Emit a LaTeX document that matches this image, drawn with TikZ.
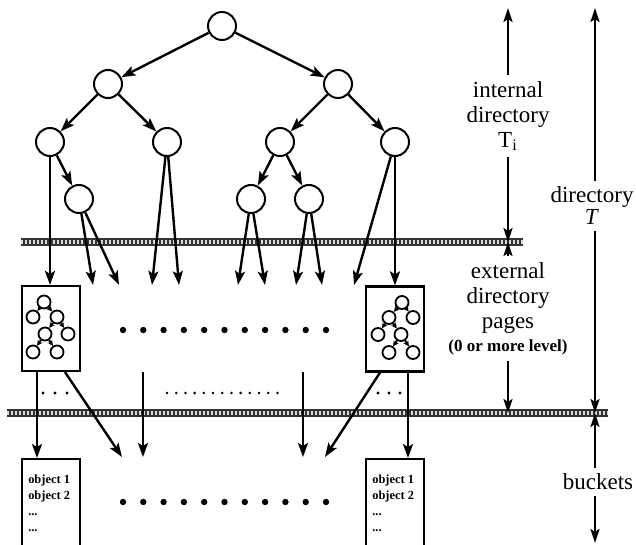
\documentclass[tikz,border=0pt]{standalone}
\usepackage{fontspec}
\setmainfont{Liberation Serif}
\usetikzlibrary{arrows.meta}
\usetikzlibrary{positioning}

\tikzset{
  tnode/.style={draw, circle, line width=1pt, minimum size=14pt, inner sep=0pt},
  mnode/.style={draw, circle, line width=0.9pt, minimum size=6.5pt, inner sep=0pt},
  edge/.style={line width=1.2pt, -{Stealth[length=7pt,width=5pt,inset=1.5pt]}},
  medge/.style={line width=1pt, -{Stealth[length=2.8pt,width=2.8pt]}},
  page/.style={draw, line width=1.1pt, minimum width=29pt, minimum height=42.5pt, inner sep=0pt},
  bucket/.style={draw, line width=1.1pt, minimum width=29pt, minimum height=48pt, anchor=north, inner sep=0pt},
  objtext/.style={font=\bfseries\fontsize{6.2}{8}\selectfont, align=left, inner sep=0pt, anchor=north west},
  lbl/.style={font=\fontsize{11.5}{12.5}\selectfont, align=center, inner sep=3pt},
  dimarrow/.style={line width=1.2pt, -{Stealth[length=7pt,width=4.5pt,inset=1.5pt]}},
  % small binary tree drawn inside a directory page
  minitree/.pic={
    \node[mnode] (a) at (-7,-26.5) {};
    \node[mnode] (b) at (-18,-11.5) {};
    \node[mnode] (c) at (6,-11.5) {};
    \node[mnode] (d) at (-6,5.5) {};
    \node[mnode] (e) at (17,5.5) {};
    \node[mnode] (f) at (-18,23.5) {};
    \node[mnode] (g) at (6,23.5) {};
    \draw[medge] (a) -- (b);
    \draw[medge] (a) -- (c);
    \draw[medge] (c) -- (d);
    \draw[medge] (c) -- (e);
    \draw[medge] (d) -- (f);
    \draw[medge] (d) -- (g);
  }
}

% thick grey band marking a level boundary
\newcommand{\levelline}[3]{%
  \draw[line width=3.8pt, black!80] (#1,#3) -- (#2,#3);
  \draw[line width=1.6pt, white!85!black, dash pattern=on 0.9pt off 1.1pt] (#1,#3) -- (#2,#3);
}

\begin{document}
\begin{tikzpicture}[x=0.5pt, y=-0.5pt]
\useasboundingbox (0,0) rectangle (636,545);

\levelline{21}{523}{242}
\levelline{7}{608}{413}

% internal directory
\node[tnode] (root) at (222,26) {};
\node[tnode] (l) at (108,84) {};
\node[tnode] (r) at (338,84) {};
\node[tnode] (ll) at (50,142) {};
\node[tnode] (lr) at (167,142) {};
\node[tnode] (rl) at (280,142) {};
\node[tnode] (rr) at (395,142) {};
\node[tnode] (llr) at (79,199) {};
\node[tnode] (rll) at (251,199) {};
\node[tnode] (rlr) at (309,199) {};

\draw[edge] (root) -- (l);
\draw[edge] (root) -- (r);
\draw[edge] (l) -- (ll);
\draw[edge] (l) -- (lr);
\draw[edge] (r) -- (rl);
\draw[edge] (r) -- (rr);
\draw[edge] (ll) -- (llr);
\draw[edge] (rl) -- (rll);
\draw[edge] (rl) -- (rlr);

% external directory pages
\node[page] (lpage) at (51,328.5) {};
\node[page] (rpage) at (395,329) {};
\pic at (lpage.center) {minitree};
\pic[xscale=-1] at (rpage.center) {minitree};

\foreach \x [count=\i] in {93,119,152,179,238,265,296,322,354}
  \coordinate (t\i) at (\x,285);

\draw[edge] (ll) -- (ll |- lpage.north);
\draw[edge] (llr) -- (t1);
\draw[edge] (llr) -- (t2);
\draw[edge] (lr) -- (t3);
\draw[edge] (lr) -- (t4);
\draw[edge] (rll) -- (t5);
\draw[edge] (rll) -- (t6);
\draw[edge] (rlr) -- (t7);
\draw[edge] (rlr) -- (t8);
\draw[edge] (rr) -- (t9);
\draw[edge] (rr) -- (rpage.north);

\foreach \i in {0,...,10}
  \fill (123+20.3*\i,330) circle (1.6pt);

% buckets
\node[bucket] (lbucket) at (51,458) {};
\node[bucket] (rbucket) at (395,458) {};
\node[objtext] (lobj) at ([xshift=3.5pt,yshift=-8pt]lbucket.north west) {object 1\\object 2\\...\\...};
\node[objtext] (robj) at ([xshift=3.5pt,yshift=-8pt]rbucket.north west) {object 1\\object 2\\...\\...};

\coordinate (m1) at (143,372);
\coordinate (m2) at (303,372);
\coordinate (b1) at (122,457);
\coordinate (b2) at (143,457);
\coordinate (b3) at (303,457);
\coordinate (b4) at (325,457);

\draw[edge] ([xshift=-7pt]lpage.south) -- ([xshift=-7pt]lbucket.north);
\draw[edge] ([xshift=7pt]lpage.south) -- (b1);
\draw[edge] (m1) -- (b2);
\draw[edge] (m2) -- (b3);
\draw[edge] ([xshift=-7.5pt]rpage.south) -- (b4);
\draw[edge] ([xshift=6.5pt]rpage.south) -- ([xshift=6.5pt]rbucket.north);

\foreach \x in {43,55,67,378,389,400}
  \fill (\x,393) circle (0.8pt);
\foreach \i in {0,...,12}
  \fill (167+9.2*\i,393) circle (0.7pt);
\foreach \i in {0,...,10}
  \fill (123+20.3*\i,502) circle (1.6pt);

% level annotations
\coordinate (tiTop) at (508,8);
\coordinate (tiEnd) at (508,242);
\coordinate (exEnd) at (508,413);
\coordinate (tTop) at (595,8);
\coordinate (tEnd) at (595,413);
\coordinate (tBot) at (595,543);

\node[lbl] (ti) at (508,116) {internal\\directory\\T\textsubscript{i}};
\node[lbl] (ext) at (508,298) {external\\directory\\pages};
\node[font=\bfseries\fontsize{8.5}{10}\selectfont, inner sep=3pt] (lvl) at (508,347) {(0 or more level)};
\node[lbl, font=\fontsize{11.5}{10}\selectfont] (dirT) at (592,206) {directory\\\textit{T}};
\node[lbl] (bk) at (598,482) {buckets};

\draw[dimarrow] (ti.north) -- (tiTop);
\draw[dimarrow] (ti.south) -- (tiEnd);
\draw[dimarrow] (ext.north) -- (tiEnd);
\draw[dimarrow] (lvl.south) -- (exEnd);
\draw[dimarrow] (dirT.north -| tTop) -- (tTop);
\draw[dimarrow] (dirT.south -| tTop) -- (tEnd);
\draw[dimarrow] (bk.north -| tTop) -- (tEnd);
\draw[dimarrow] (bk.south -| tTop) -- (tBot);
\end{tikzpicture}
\end{document}
